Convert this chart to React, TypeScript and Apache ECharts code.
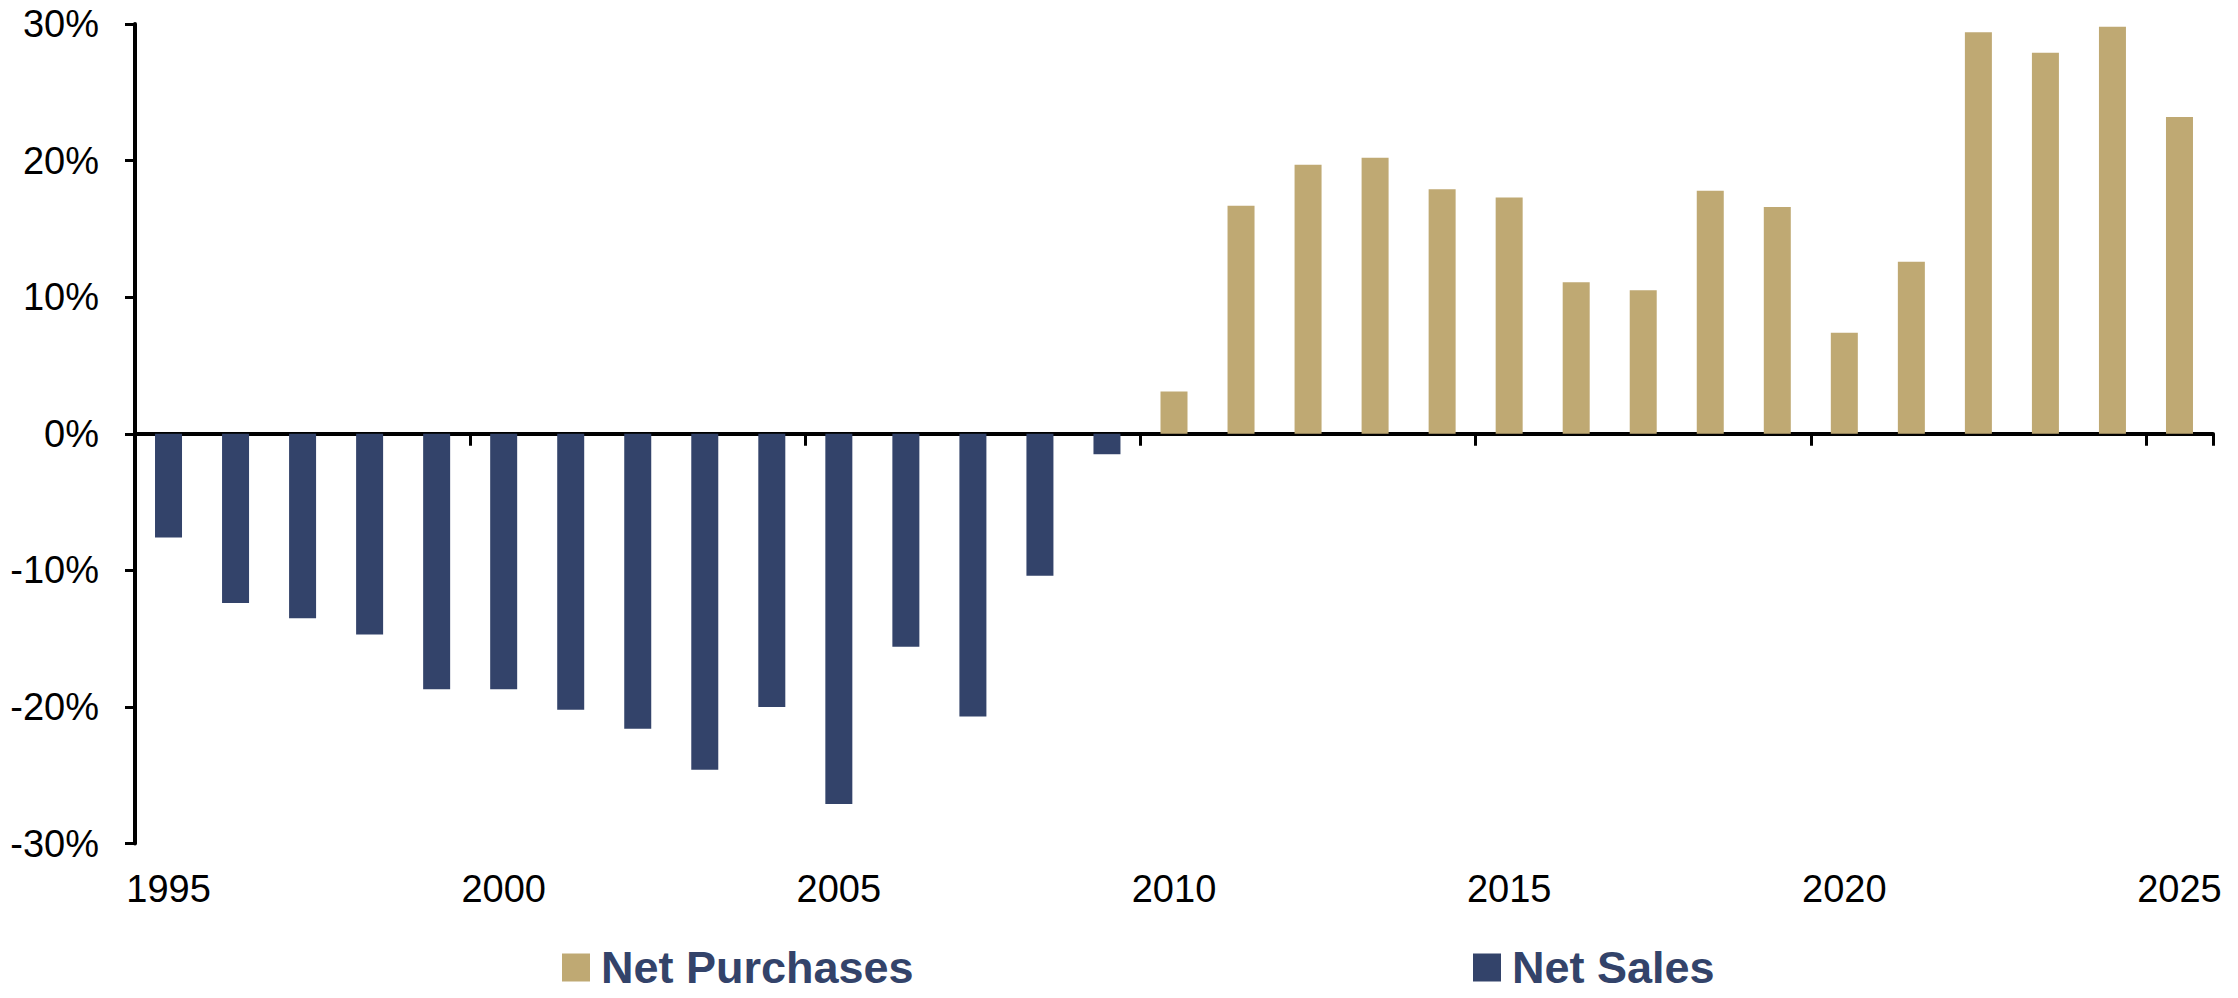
import React, { useEffect, useRef } from "react";
import * as echarts from "echarts";

// Fiscal years on the category axis
const years: string[] = [
  "1995", "1996", "1997", "1998", "1999", "2000", "2001", "2002", "2003", "2004",
  "2005", "2006", "2007", "2008", "2009", "2010", "2011", "2012", "2013", "2014",
  "2015", "2016", "2017", "2018", "2019", "2020", "2021", "2022", "2023", "2024",
  "2025",
];

// Net purchases (%) — positive years only
const netPurchases: (number | string)[] = [
  "-", "-", "-", "-", "-", "-", "-", "-", "-", "-",
  "-", "-", "-", "-", "-", 3.1, 16.7, 19.7, 20.2, 17.9,
  17.3, 11.1, 10.5, 17.8, 16.6, 7.4, 12.6, 29.4, 27.9, 29.8,
  23.2,
];

// Net sales (%) — negative years only
const netSales: (number | string)[] = [
  -7.6, -12.4, -13.5, -14.7, -18.7, -18.7, -20.2, -21.6, -24.6, -20.0,
  -27.1, -15.6, -20.7, -10.4, -1.5, "-", "-", "-", "-", "-",
  "-", "-", "-", "-", "-", "-", "-", "-", "-", "-",
  "-",
];

const yTicks = { min: -30, max: 30, interval: 10 };

const GOLD = "#BFA973";
const NAVY = "#33436A";
const FONT = "'Liberation Sans', Arial, sans-serif";

export default function App() {
  const ref = useRef<HTMLDivElement>(null);

  useEffect(() => {
    if (!ref.current) return;
    const chart = echarts.init(ref.current, undefined, { renderer: "svg" });

    const legendText = {
      color: NAVY,
      fontSize: 45,
      fontWeight: "bold" as const,
      fontFamily: FONT,
      padding: [0, 0, 0, 6],
    };

    chart.setOption({
      animation: false,
      backgroundColor: "#ffffff",
      grid: { left: 135, right: 25, top: 24, bottom: 154.5, containLabel: false },
      legend: [
        {
          data: ["Net Purchases"],
          left: 557,
          top: 940,
          icon: "rect",
          itemWidth: 28,
          itemHeight: 28,
          textStyle: legendText,
          selectedMode: false,
        },
        {
          data: ["Net Sales"],
          left: 1468,
          top: 940,
          icon: "rect",
          itemWidth: 28,
          itemHeight: 28,
          textStyle: legendText,
          selectedMode: false,
        },
      ],
      xAxis: [
        {
          // zero line with ticks every five years
          type: "category",
          data: years,
          position: "bottom",
          boundaryGap: true,
          axisLine: { show: true, onZero: true, lineStyle: { color: "#000", width: 4 } },
          axisTick: {
            show: true,
            interval: 4,
            alignWithLabel: false,
            length: 12,
            lineStyle: { color: "#000", width: 3 },
          },
          axisLabel: { show: false },
          splitLine: { show: false },
        },
        {
          // year labels along the bottom edge
          type: "category",
          data: years,
          position: "bottom",
          boundaryGap: true,
          axisLine: { show: false, onZero: false },
          axisTick: { show: false },
          axisLabel: {
            show: true,
            interval: 4,
            margin: 26,
            fontSize: 38,
            color: "#000",
            fontFamily: FONT,
          },
          splitLine: { show: false },
        },
      ],
      yAxis: {
        type: "value",
        min: yTicks.min,
        max: yTicks.max,
        interval: yTicks.interval,
        axisLine: { show: true, onZero: false, lineStyle: { color: "#000", width: 4 } },
        axisTick: { show: true, length: 10, lineStyle: { color: "#000", width: 3 } },
        axisLabel: {
          formatter: "{value}%",
          fontSize: 38,
          color: "#000",
          margin: 36,
          fontFamily: FONT,
        },
        splitLine: { show: false },
      },
      series: [
        {
          name: "Net Purchases",
          type: "bar",
          xAxisIndex: 0,
          data: netPurchases,
          barWidth: 27,
          barGap: "-100%",
          itemStyle: { color: GOLD },
        },
        {
          name: "Net Sales",
          type: "bar",
          xAxisIndex: 0,
          data: netSales,
          barWidth: 27,
          barGap: "-100%",
          itemStyle: { color: NAVY },
        },
      ],
    });

    return () => chart.dispose();
  }, []);

  return (
    <div
      ref={ref}
      style={{ position: "absolute", left: 0, top: 0, width: 2238, height: 998 }}
    />
  );
}
